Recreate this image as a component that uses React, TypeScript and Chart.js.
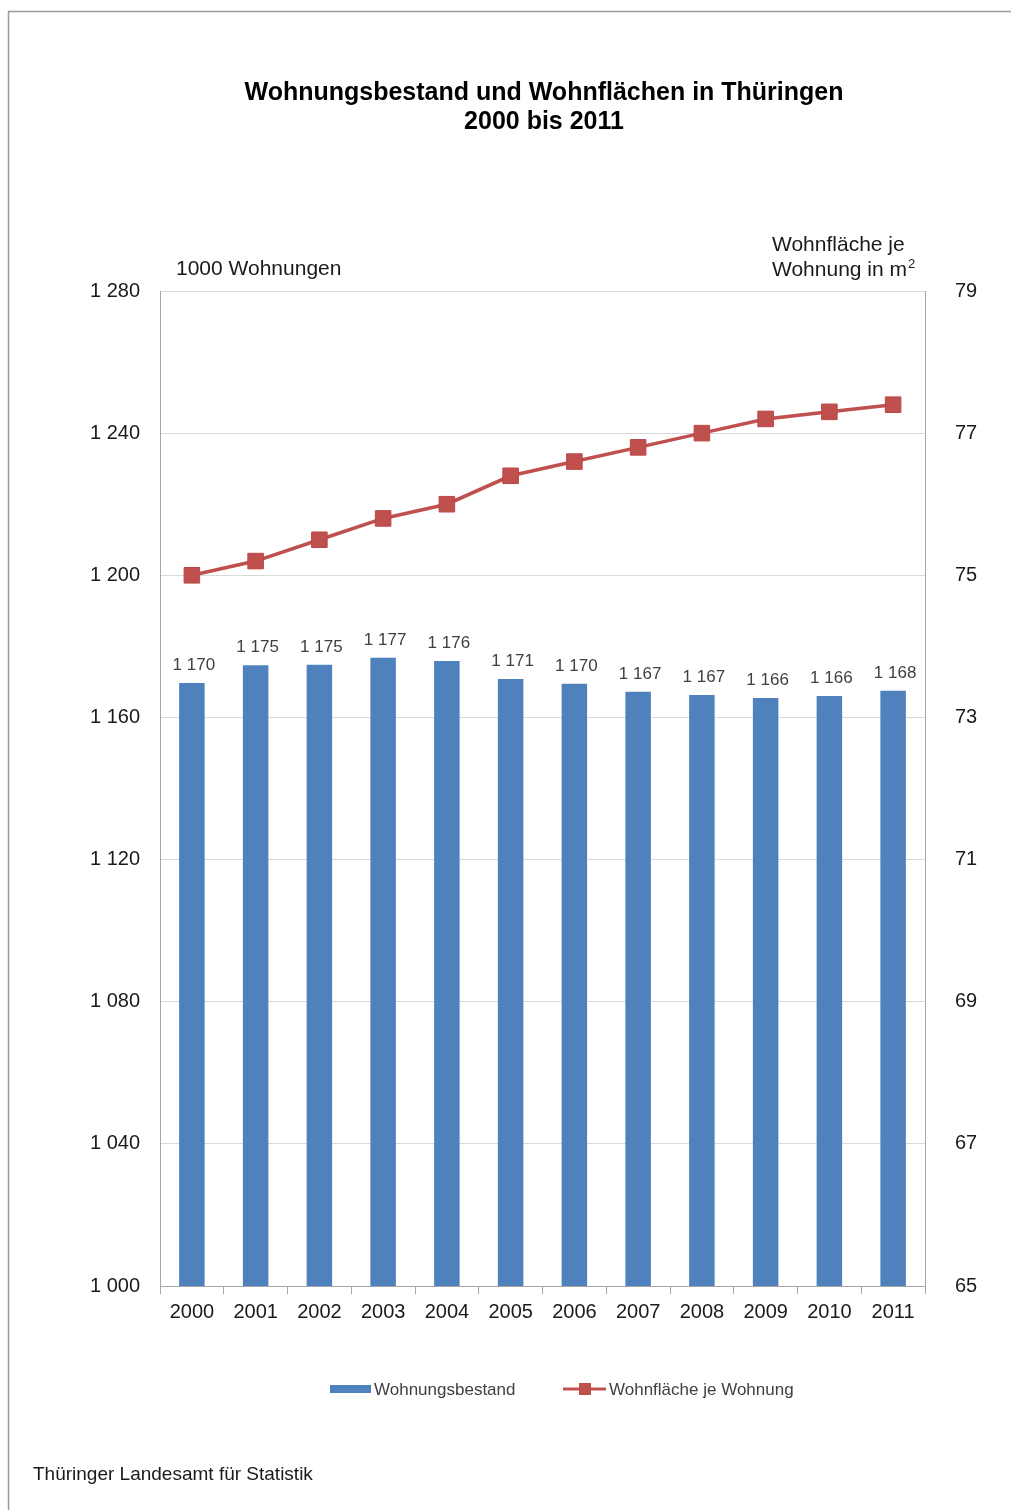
import React, { useEffect, useRef } from "react";
import { Chart, registerables } from "chart.js";

Chart.register(...registerables);

const years = ["2000", "2001", "2002", "2003", "2004", "2005", "2006", "2007", "2008", "2009", "2010", "2011"];
const wohnungsbestand = [1169.7, 1174.7, 1174.8, 1176.8, 1175.9, 1170.8, 1169.5, 1167.2, 1166.3, 1165.5, 1166.0, 1167.5];
const bestandLabels = ["1 170", "1 175", "1 175", "1 177", "1 176", "1 171", "1 170", "1 167", "1 167", "1 166", "1 166", "1 168"];
const wohnflaeche = [75.0, 75.2, 75.5, 75.8, 76.0, 76.4, 76.6, 76.8, 77.0, 77.2, 77.3, 77.4];

const leftMin = 1000;
const leftMax = 1280;
const leftStep = 40;
const rightMin = 65;
const rightMax = 79;
const rightStep = 2;

const titleLines = ["Wohnungsbestand und Wohnflächen in Thüringen", "2000 bis 2011"];
const leftUnit = "1000 Wohnungen";
const rightUnit = ["Wohnfläche je", "Wohnung in m"];
const seriesNames = ["Wohnungsbestand", "Wohnfläche je Wohnung"];
const source = "Thüringer Landesamt für Statistik";

const BLUE = "#4F81BD";
const RED = "#C0504D";
const FONT = "'Liberation Sans', Arial, sans-serif";

const fmt = (v: number) => String(v).replace(/\B(?=(\d{3})+(?!\d))/g, " ");

export default function App() {
  const ref = useRef<HTMLCanvasElement | null>(null);

  useEffect(() => {
    if (!ref.current) return;

    const decorations = {
      id: "decorations",
      afterDatasetsDraw(chart: any) {
        const ctx = chart.ctx;
        const meta = chart.getDatasetMeta(1);
        ctx.save();
        ctx.fillStyle = "#404040";
        ctx.font = `17px ${FONT}`;
        ctx.textAlign = "center";
        ctx.textBaseline = "bottom";
        meta.data.forEach((bar: any, i: number) => {
          ctx.fillText(bestandLabels[i], bar.x + 2, bar.y - 9);
        });
        ctx.restore();
      },
      afterDraw(chart: any) {
        const ctx = chart.ctx;
        ctx.save();
        // frame
        ctx.strokeStyle = "#9a9a9a";
        ctx.lineWidth = 1.5;
        ctx.beginPath();
        ctx.moveTo(8.5, 1510);
        ctx.lineTo(8.5, 11.5);
        ctx.lineTo(1011, 11.5);
        ctx.stroke();

        // title
        ctx.fillStyle = "#000";
        ctx.font = `bold 25px ${FONT}`;
        ctx.textAlign = "center";
        ctx.textBaseline = "middle";
        ctx.fillText(titleLines[0], 544, 93);
        ctx.fillText(titleLines[1], 544, 122);

        // axis units
        ctx.fillStyle = "#1a1a1a";
        ctx.font = `21px ${FONT}`;
        ctx.textAlign = "left";
        ctx.fillText(leftUnit, 176, 269);
        ctx.fillText(rightUnit[0], 772, 245);
        ctx.fillText(rightUnit[1], 772, 270);
        const w = ctx.measureText(rightUnit[1]).width;
        ctx.font = `13px ${FONT}`;
        ctx.fillText("2", 772 + w + 1, 264);

        // legend
        ctx.fillStyle = BLUE;
        ctx.fillRect(330, 1385, 41, 8);
        ctx.fillStyle = "#404040";
        ctx.font = `17px ${FONT}`;
        ctx.textBaseline = "middle";
        ctx.fillText(seriesNames[0], 374, 1390);
        ctx.strokeStyle = RED;
        ctx.lineWidth = 3;
        ctx.beginPath();
        ctx.moveTo(563, 1389);
        ctx.lineTo(606, 1389);
        ctx.stroke();
        ctx.fillStyle = RED;
        ctx.fillRect(579, 1383, 12, 12);
        ctx.fillStyle = "#404040";
        ctx.fillText(seriesNames[1], 609, 1390);

        // source
        ctx.fillStyle = "#1a1a1a";
        ctx.font = `19px ${FONT}`;
        ctx.fillText(source, 33, 1475);
        ctx.restore();
      },
    };

    const chart = new Chart(ref.current, {
      type: "bar",
      data: {
        labels: years,
        datasets: [
          {
            type: "line",
            label: seriesNames[1],
            data: wohnflaeche,
            yAxisID: "y1",
            borderColor: RED,
            backgroundColor: RED,
            borderWidth: 3.5,
            pointStyle: "rect",
            pointRadius: 11,
            pointBackgroundColor: RED,
            pointBorderColor: "#B9474A",
            pointBorderWidth: 1,
            order: 0,
          } as any,
          {
            type: "bar",
            label: seriesNames[0],
            data: wohnungsbestand,
            yAxisID: "y",
            backgroundColor: BLUE,
            categoryPercentage: 1,
            barPercentage: 0.4,
            order: 1,
          },
        ],
      },
      options: {
        responsive: false,
        animation: false,
        layout: { padding: { left: 60, right: 26, top: 291, bottom: 174 } },
        plugins: { legend: { display: false }, title: { display: false }, tooltip: { enabled: false } },
        scales: {
          x: {
            offset: true,
            grid: { offset: true, drawOnChartArea: false, color: "#a6a6a6", tickLength: 8 },
            border: { color: "#a6a6a6" },
            ticks: { color: "#1a1a1a", font: { family: FONT, size: 20 }, padding: 6 },
            afterFit: (s: any) => { s.height = 50; },
          },
          y: {
            position: "left",
            min: leftMin,
            max: leftMax,
            ticks: { stepSize: leftStep, color: "#1a1a1a", font: { family: FONT, size: 20 }, padding: 20, callback: (v: any) => fmt(Number(v)) },
            grid: { color: "#d9d9d9", drawTicks: false },
            border: { color: "#a6a6a6" },
            afterFit: (s: any) => { s.width = 100; },
          },
          y1: {
            position: "right",
            min: rightMin,
            max: rightMax,
            ticks: { stepSize: rightStep, color: "#1a1a1a", font: { family: FONT, size: 20 }, padding: 30 },
            grid: { drawOnChartArea: false, drawTicks: false },
            border: { color: "#a6a6a6" },
            afterFit: (s: any) => { s.width = 60; },
          },
        },
      },
      plugins: [decorations],
    });
    return () => chart.destroy();
  }, []);

  return (
    <div style={{ position: "absolute", left: 0, top: 0, width: 1011, height: 1510, background: "#fff" }}>
      <canvas ref={ref} width={1011} height={1510} style={{ display: "block" }} />
    </div>
  );
}
